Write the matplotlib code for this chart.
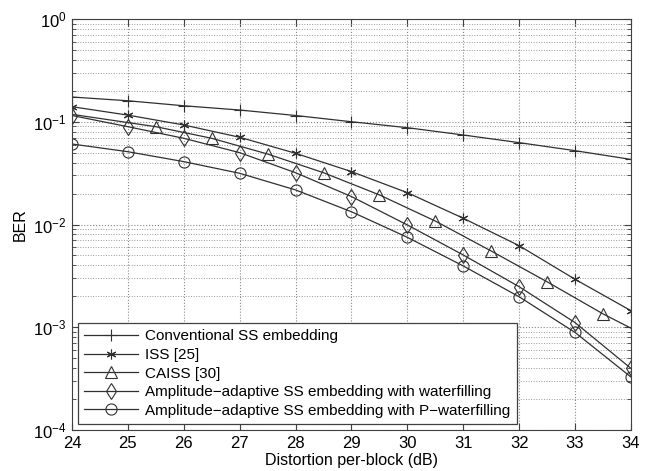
import matplotlib
matplotlib.use("Agg")
import matplotlib.pyplot as plt
from matplotlib.ticker import LogLocator, NullFormatter

plt.rcParams['font.family'] = ['Liberation Sans', 'DejaVu Sans']
plt.rcParams['mathtext.fontset'] = 'custom'
plt.rcParams['mathtext.rm'] = 'Liberation Sans'

# distortion per block (dB)
x_int = [24, 25, 26, 27, 28, 29, 30, 31, 32, 33, 34]
x_caiss = [24, 25.5, 26.5, 27.5, 28.5, 29.5, 30.5, 31.5, 32.5, 33.5, 34]

ber_conv = [0.174, 0.160, 0.143, 0.130, 0.115, 0.100, 0.0875, 0.0743, 0.0626, 0.0523, 0.043]
ber_iss = [0.140, 0.116, 0.093, 0.0706, 0.0493, 0.0327, 0.0204, 0.0115, 0.00622, 0.00293, 0.00145]
ber_caiss = [0.118, 0.0895, 0.069, 0.0485, 0.0319, 0.0194, 0.0108, 0.00552, 0.00277, 0.00135, 0.00098]
ber_wf = [0.115, 0.0895, 0.069, 0.050, 0.0319, 0.0187, 0.0099, 0.00505, 0.00248, 0.00111, 0.000398]
ber_pwf = [0.0607, 0.0511, 0.0409, 0.0315, 0.0217, 0.0133, 0.0075, 0.00395, 0.00198, 0.00089, 0.000328]

labels = ["Conventional SS embedding", "ISS [25]", "CAISS [30]",
          "Amplitude\u2212adaptive SS embedding with waterfilling",
          "Amplitude\u2212adaptive SS embedding with P\u2212waterfilling"]

fig = plt.figure(figsize=(6.56, 4.71), dpi=100)
ax = fig.add_axes([0.1098, 0.087, 0.852, 0.8727])

lc = '#303030'
kw = dict(color=lc, lw=0.9, mfc='none', mec=lc, mew=0.8)
ax.semilogy(x_int, ber_conv, marker='+', ms=9, label=labels[0], **kw)
ax.semilogy(x_int, ber_iss, marker=(6, 2, 0), ms=7, label=labels[1], **kw)
ax.semilogy(x_caiss, ber_caiss, marker='^', ms=8, markevery=slice(1, 10), label=labels[2], **kw)
ax.semilogy(x_int, ber_wf, marker='d', ms=8, label=labels[3], **kw)
ax.semilogy(x_int, ber_pwf, marker='o', ms=8, label=labels[4], **kw)

ax.set_xlim(24, 34)
ax.set_ylim(1e-4, 1)
ax.set_xticks(range(24, 35))
ax.yaxis.set_major_locator(LogLocator(base=10, numticks=10))
ax.yaxis.set_minor_locator(LogLocator(base=10, subs=range(2, 10), numticks=20))
ax.yaxis.set_minor_formatter(NullFormatter())
ax.tick_params(which='both', direction='in', top=True, right=True, labelsize=12, color='#404040')
ax.tick_params(which='major', length=5, pad=4)
ax.tick_params(which='minor', length=3)
ax.grid(True, which='major', axis='both', ls=':', color='#888888', lw=0.8)
ax.grid(True, which='minor', axis='y', ls=':', color='#999999', lw=0.7)
for s in ax.spines.values():
    s.set_color('#404040')

ax.set_xlabel("Distortion per-block (dB)", fontsize=11.5, labelpad=2)
ax.set_ylabel("BER", fontsize=11.5)

leg = ax.legend(loc='lower left', fontsize=11, handlelength=3.5, fancybox=False,
                framealpha=1, edgecolor='#404040', borderaxespad=0.4,
                labelspacing=0.3, borderpad=0.4, handletextpad=0.5)
leg.get_frame().set_linewidth(0.9)

fig.savefig("out.png", dpi=100)
